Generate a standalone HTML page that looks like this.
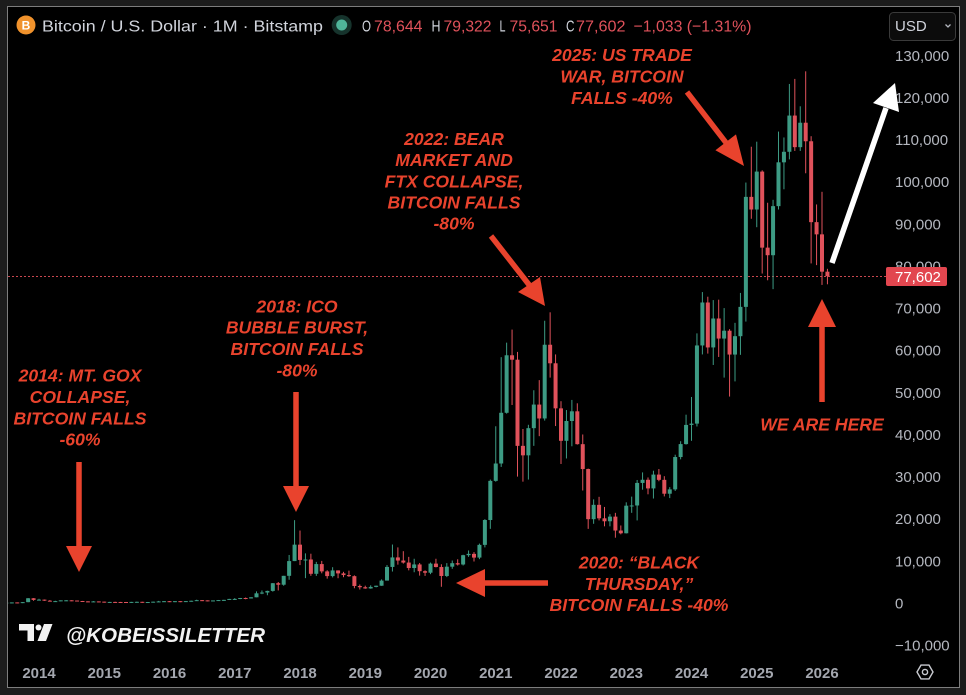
<!DOCTYPE html>
<html><head><meta charset="utf-8">
<style>
html,body{margin:0;padding:0;background:#1c1c1c;width:966px;height:695px;overflow:hidden;}
svg{display:block;}
text{font-family:"Liberation Sans",sans-serif;}
.ann{font-weight:bold;font-style:italic;font-size:17.6px;fill:#e9432d;text-anchor:middle;}
.ax{font-size:15px;fill:#b4b7bf;}
.yr{font-size:15px;font-weight:bold;fill:#a4a7af;text-anchor:middle;}
.hd{font-size:16px;fill:#d1d4dc;}
.rd{font-size:16px;fill:#e0525b;}
</style></head><body>
<svg width="966" height="695" viewBox="0 0 966 695" xmlns="http://www.w3.org/2000/svg">
<defs><clipPath id="pc"><rect x="8" y="7" width="880" height="650"/></clipPath></defs>
<rect width="966" height="695" fill="#1c1c1c"/>
<rect x="7.5" y="6.5" width="952" height="681" fill="#000" stroke="#7d7d7d" stroke-width="1"/>

<!-- header -->
<circle cx="26" cy="25" r="9.5" fill="#f0922c"/>
<text x="26" y="29.5" font-size="12" font-weight="bold" fill="#fff" text-anchor="middle">B</text>
<text class="hd" x="42" y="31.5" textLength="281" lengthAdjust="spacingAndGlyphs">Bitcoin / U.S. Dollar · 1M · Bitstamp</text>
<circle cx="341.7" cy="25" r="10" fill="#16332c"/>
<circle cx="341.7" cy="25" r="5.5" fill="#4fb59a"/>
<text class="hd" x="362" y="31.5" textLength="9" lengthAdjust="spacingAndGlyphs">O</text>
<text class="rd" x="374" y="31.5" textLength="48.5" lengthAdjust="spacingAndGlyphs">78,644</text>
<text class="hd" x="431.5" y="31.5" textLength="9" lengthAdjust="spacingAndGlyphs">H</text>
<text class="rd" x="443.5" y="31.5" textLength="48" lengthAdjust="spacingAndGlyphs">79,322</text>
<text class="hd" x="499.5" y="31.5" textLength="6" lengthAdjust="spacingAndGlyphs">L</text>
<text class="rd" x="509.5" y="31.5" textLength="48" lengthAdjust="spacingAndGlyphs">75,651</text>
<text class="hd" x="566" y="31.5" textLength="8.5" lengthAdjust="spacingAndGlyphs">C</text>
<text class="rd" x="576" y="31.5" textLength="49.5" lengthAdjust="spacingAndGlyphs">77,602</text>
<text class="rd" x="633.5" y="31.5" textLength="118" lengthAdjust="spacingAndGlyphs">−1,033 (−1.31%)</text>

<!-- USD button -->
<rect x="889.5" y="12.5" width="66" height="28" rx="4" fill="#0c0c0c" stroke="#3a3a3a"/>
<text x="895" y="31" font-size="15" fill="#d1d4dc">USD</text>
<polyline points="945.5,24.5 948,27 950.5,24.5" fill="none" stroke="#b4b7bf" stroke-width="1.3"/>

<!-- y axis labels -->
<g class="ax">
<text x="895" y="61">130,000</text>
<text x="895" y="103">120,000</text>
<text x="895" y="145">110,000</text>
<text x="895" y="187.2">100,000</text>
<text x="895" y="229.3">90,000</text>
<text x="895" y="271.4">80,000</text>
<text x="895" y="313.5">70,000</text>
<text x="895" y="355.7">60,000</text>
<text x="895" y="397.8">50,000</text>
<text x="895" y="439.9">40,000</text>
<text x="895" y="482">30,000</text>
<text x="895" y="524.2">20,000</text>
<text x="895" y="566.3">10,000</text>
<text x="895" y="608.5">0</text>
<text x="895" y="650.6">−10,000</text>
</g>

<!-- current price line -->
<line x1="8" y1="276.5" x2="886" y2="276.5" stroke="#c9474f" stroke-width="1" stroke-dasharray="2 2"/>
<rect x="886" y="267" width="61" height="19" rx="2" fill="#e2464f"/>
<text x="895" y="282" font-size="15" fill="#fff">77,602</text>

<!-- candles -->
<g id="candles" clip-path="url(#pc)"></g>

<!-- year axis -->
<g class="yr">
<text x="39" y="678">2014</text>
<text x="104.25" y="678">2015</text>
<text x="169.5" y="678">2016</text>
<text x="234.75" y="678">2017</text>
<text x="300" y="678">2018</text>
<text x="365.25" y="678">2019</text>
<text x="430.5" y="678">2020</text>
<text x="495.75" y="678">2021</text>
<text x="561" y="678">2022</text>
<text x="626.25" y="678">2023</text>
<text x="691.5" y="678">2024</text>
<text x="756.75" y="678">2025</text>
<text x="822" y="678">2026</text>
</g>
<!-- settings icon -->
<polygon points="917,672 921,665.1 929,665.1 933,672 929,678.9 921,678.9" fill="none" stroke="#c8cad0" stroke-width="1.4"/>
<circle cx="925" cy="672" r="2.6" fill="none" stroke="#c8cad0" stroke-width="1.4"/>

<!-- watermark -->
<g fill="#f2f2f2">
<path d="M19,624 H34 V641 H27.5 V630.5 H19 Z"/>
<circle cx="38.5" cy="627.5" r="3"/>
<polygon points="44,624 52.5,624 46,641 37.5,641"/>
</g>
<text x="66" y="642" font-size="20.5" font-weight="bold" font-style="italic" fill="#f2f2f2" textLength="199" lengthAdjust="spacingAndGlyphs">@KOBEISSILETTER</text>

<!-- annotations -->
<g class="ann">
<text x="80" y="381.7">2014: MT. GOX</text>
<text x="80" y="403">COLLAPSE,</text>
<text x="80" y="424.3">BITCOIN FALLS</text>
<text x="80" y="445.7">-60%</text>

<text x="297" y="312.3">2018: ICO</text>
<text x="297" y="333.6">BUBBLE BURST,</text>
<text x="297" y="355">BITCOIN FALLS</text>
<text x="297" y="376.5">-80%</text>

<text x="454" y="145">2022: BEAR</text>
<text x="454" y="166">MARKET AND</text>
<text x="454" y="187.3">FTX COLLAPSE,</text>
<text x="454" y="208.5">BITCOIN FALLS</text>
<text x="454" y="229.5">-80%</text>

<text x="622" y="61">2025: US TRADE</text>
<text x="622" y="82.5">WAR, BITCOIN</text>
<text x="622" y="104">FALLS -40%</text>

<text x="639" y="568.5">2020: “BLACK</text>
<text x="639" y="590">THURSDAY,”</text>
<text x="639" y="611">BITCOIN FALLS -40%</text>

<text x="822" y="430.7">WE ARE HERE</text>
</g>

<!-- arrows -->
<g stroke="#e9432d" stroke-width="5.5" fill="none">
<line x1="79" y1="462" x2="79" y2="550"/>
<line x1="296" y1="392" x2="296" y2="490"/>
<line x1="548" y1="583" x2="480" y2="583"/>
<line x1="491" y1="236" x2="530" y2="286"/>
<line x1="687" y1="92" x2="727" y2="144"/>
<line x1="822" y1="402" x2="822" y2="322"/>
</g>
<g fill="#e9432d">
<polygon points="66,546 92,546 79,572"/>
<polygon points="283,486 309,486 296,512"/>
<polygon points="485,569 485,597 456,583"/>
<polygon points="545,306 518,292 540,277"/>
<polygon points="744,166 715.4,150.2 736,134.4"/>
<polygon points="808,327 836,327 822,299"/>
</g>
<line x1="832" y1="263" x2="886" y2="108" stroke="#fff" stroke-width="5.5"/>
<polygon points="895,83 873,103 899,112" fill="#fff"/>
</svg>
<script>
var D=[
[0.097,0.111,0.065,0.106],[0.106,0.141,0.101,0.141],[0.141,0.145,0.113,0.125],[0.125,0.212,0.102,0.204],[0.204,1.163,0.193,1.128],[1.128,1.163,0.522,0.732],
[0.732,1.000,0.732,0.800],[0.800,0.840,0.500,0.550],[0.550,0.700,0.440,0.445],[0.445,0.530,0.340,0.447],[0.447,0.630,0.440,0.628],[0.628,0.680,0.550,0.640],[0.640,0.660,0.570,0.586],[0.586,0.600,0.450,0.478],[0.478,0.490,0.370,0.387],[0.387,0.420,0.275,0.338],[0.338,0.460,0.310,0.378],[0.378,0.385,0.300,0.320],
[0.320,0.320,0.152,0.217],[0.217,0.268,0.210,0.254],[0.254,0.300,0.240,0.244],[0.244,0.260,0.215,0.236],[0.236,0.250,0.228,0.230],[0.230,0.267,0.220,0.263],[0.263,0.317,0.254,0.284],[0.284,0.284,0.198,0.230],[0.230,0.247,0.226,0.236],[0.236,0.327,0.235,0.314],[0.314,0.495,0.300,0.377],[0.377,0.465,0.349,0.430],
[0.430,0.462,0.354,0.369],[0.369,0.440,0.366,0.437],[0.437,0.440,0.405,0.416],[0.416,0.467,0.412,0.448],[0.448,0.550,0.436,0.531],[0.531,0.780,0.530,0.673],[0.673,0.704,0.600,0.624],[0.624,0.630,0.480,0.575],[0.575,0.614,0.570,0.608],[0.608,0.720,0.606,0.698],[0.698,0.752,0.690,0.742],[0.742,0.980,0.738,0.966],
[0.966,1.150,0.752,0.970],[0.970,1.200,0.910,1.190],[1.190,1.300,0.890,1.080],[1.080,1.380,1.060,1.350],[1.350,2.760,1.350,2.300],[2.300,2.980,2.100,2.480],[2.480,2.920,1.840,2.870],[2.870,4.730,2.700,4.700],[4.700,4.980,2.980,4.340],[4.340,6.450,4.100,6.450],[6.450,11.400,5.520,9.950],[9.950,19.666,9.950,13.850],
[13.850,17.200,9.000,10.220],[10.220,11.780,5.900,10.330],[10.330,11.700,6.450,6.930],[6.930,9.760,6.430,9.240],[9.240,9.990,7.050,7.500],[7.500,7.770,5.780,6.390],[6.390,8.500,6.070,7.730],[7.730,7.750,5.880,7.030],[7.030,7.400,6.120,6.630],[6.630,7.680,6.200,6.370],[6.370,6.560,3.500,4.040],[4.040,4.390,3.200,3.740],
[3.740,4.110,3.370,3.450],[3.450,4.200,3.380,3.820],[3.820,4.130,3.720,4.100],[4.100,5.600,4.080,5.320],[5.320,9.000,5.320,8.560],[8.560,13.880,7.470,10.820],[10.820,13.200,9.100,10.080],[10.080,12.300,9.350,9.600],[9.600,10.950,7.750,8.300],[8.300,10.500,7.300,9.150],[9.150,9.500,6.500,7.550],[7.550,7.750,6.430,7.190],
[7.190,9.600,6.850,9.350],[9.350,10.500,8.450,8.540],[8.540,9.190,3.850,6.410],[6.410,9.470,6.150,8.620],[8.620,10.080,8.110,9.450],[9.450,10.380,8.900,9.140],[9.140,11.450,8.910,11.350],[11.350,12.470,10.950,11.660],[11.660,12.080,9.850,10.780],[10.780,14.100,10.410,13.800],[13.800,19.900,13.200,19.700],[19.700,29.300,17.600,28.990],
[28.990,41.950,28.800,33.110],[33.110,58.350,32.300,45.150],[45.150,61.800,44.950,58.800],[58.800,64.900,47.000,57.750],[57.750,59.600,30.000,37.300],[37.300,41.300,28.800,35.050],[35.050,42.300,29.300,41.500],[41.500,50.500,37.300,47.100],[47.100,52.900,39.600,43.800],[43.800,67.000,43.300,61.300],[61.300,69.000,53.500,56.900],[56.900,59.000,42.000,46.200],
[46.200,47.900,33.000,38.500],[38.500,45.800,34.300,43.200],[43.200,48.200,37.200,45.500],[45.500,47.400,37.600,37.700],[37.700,40.000,26.700,31.800],[31.800,31.900,17.600,19.900],[19.900,24.600,18.800,23.300],[23.300,25.200,19.600,20.100],[20.100,22.800,18.200,19.400],[19.400,21.100,18.200,20.500],[20.500,21.400,15.500,17.200],[17.200,18.400,16.300,16.550],
[16.550,23.900,16.500,23.100],[23.100,25.250,21.400,23.150],[23.150,29.200,19.600,28.500],[28.500,31.000,26.900,29.250],[29.250,29.800,25.800,27.200],[27.200,31.400,24.800,30.480],[30.480,31.800,28.900,29.230],[29.230,30.100,25.300,25.940],[25.940,27.500,24.900,26.970],[26.970,35.200,26.600,34.650],[34.650,38.400,34.100,37.720],[37.720,44.700,37.600,42.270],
[42.270,48.900,38.500,42.580],[42.580,64.000,41.900,61.130],[61.130,73.800,59.000,71.330],[71.330,72.700,59.200,60.660],[60.660,71.900,56.500,67.530],[67.530,72.000,58.400,62.770],[62.770,70.000,53.500,64.630],[64.630,65.000,49.000,58.970],[58.970,66.500,52.600,63.330],[63.330,73.600,58.900,70.290],[70.290,99.800,66.800,96.400],[96.400,108.300,91.200,93.400],
[93.400,109.500,89.200,102.400],[102.400,102.700,78.200,84.350],[84.350,95.000,76.600,82.550],[82.550,95.700,74.500,94.200],[94.200,111.900,93.400,104.600],[104.600,110.500,98.200,107.100],[107.100,123.200,105.300,115.700],[115.700,124.400,107.300,108.200],[108.200,117.900,107.300,114.000],[114.000,126.200,102.000,109.600],[109.600,110.800,80.600,90.400],[90.400,94.600,80.200,87.500],
[87.500,97.600,75.500,78.644],[78.644,79.322,75.651,77.602]
];
(function(){
  var NS="http://www.w3.org/2000/svg";
  var g=document.getElementById('candles');
  function Y(p){return 603-p*4.213;}
  for(var i=0;i<D.length;i++){
    var m=i-6, cx=39+m*5.4375, c=D[i];
    var o=c[0],h=c[1],l=c[2],cl=c[3];
    var col=cl>=o?'#3d9b84':'#e0525b';
    var w=document.createElementNS(NS,'rect');
    w.setAttribute('x',(cx-0.5).toFixed(2));
    w.setAttribute('y',Y(h).toFixed(2));
    w.setAttribute('width','1');
    w.setAttribute('height',Math.max(1,Y(l)-Y(h)).toFixed(2));
    w.setAttribute('fill',col);
    g.appendChild(w);
    var t=Y(Math.max(o,cl)), b=Y(Math.min(o,cl));
    var r=document.createElementNS(NS,'rect');
    r.setAttribute('x',(cx-2).toFixed(2));
    r.setAttribute('y',t.toFixed(2));
    r.setAttribute('width','4');
    r.setAttribute('height',Math.max(1,b-t).toFixed(2));
    r.setAttribute('fill',col);
    g.appendChild(r);
  }
})();
</script>
</body></html>
